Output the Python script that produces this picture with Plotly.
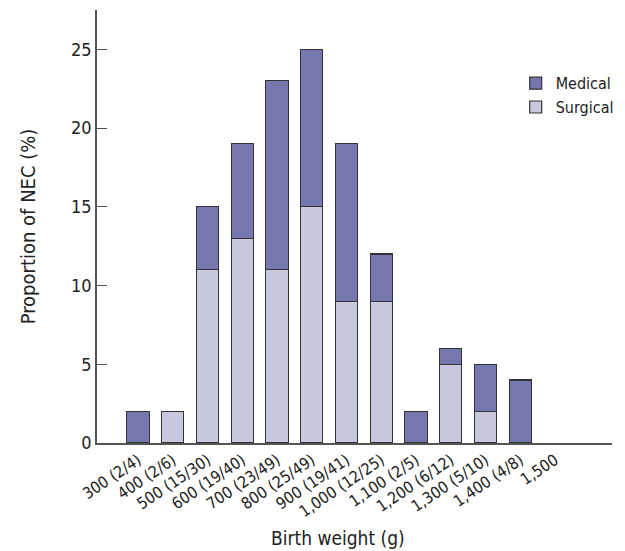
import plotly.graph_objects as go

categories = ["300 (2/4)", "400 (2/6)", "500 (15/30)", "600 (19/40)", "700 (23/49)",
              "800 (25/49)", "900 (19/41)", "1,000 (12/25)", "1,100 (2/5)", "1,200 (6/12)",
              "1,300 (5/10)", "1,400 (4/8)", "1,500"]
surgical = [None, 2, 11, 13, 11, 15, 9, 9, None, 5, 2, None, None]
medical = [2, None, 4, 6, 12, 10, 10, 3, 2, 1, 3, 4, None]
y_ticks = [0, 5, 10, 15, 20, 25]

FONT = "DejaVu Sans Condensed, Roboto, Arial"
x_idx = list(range(len(categories)))

fig = go.Figure()
fig.add_trace(go.Bar(x=x_idx, y=surgical, name="Surgical",
                     marker=dict(color="#c8c8e0", line=dict(color="#333333", width=1.2)),
                     width=0.64))
fig.add_trace(go.Bar(x=x_idx, y=medical, name="Medical",
                     marker=dict(color="#7577ae", line=dict(color="#333333", width=1.2)),
                     width=0.64))

fig.add_annotation(text="Birth weight (g)", xref="paper", yref="paper",
                   x=0.468, y=-0.219, xanchor="center", yanchor="middle",
                   showarrow=False, font=dict(size=19, family=FONT, color="#222222"))

fig.update_layout(
    width=625, height=551,
    barmode="stack",
    plot_bgcolor="white", paper_bgcolor="white",
    margin=dict(l=97, r=13, t=10, b=108, autoexpand=False),
    font=dict(family=FONT, color="#222222", size=16),
    legend=dict(x=0.813, y=0.87, xanchor="left", yanchor="top",
                traceorder="reversed", font=dict(size=16, family=FONT),
                bgcolor="rgba(0,0,0,0)", tracegroupgap=0),
    xaxis=dict(range=[-1.18, 13.64], tickmode="array", tickvals=x_idx, ticktext=categories,
               tickangle=-34, tickfont=dict(size=16, family=FONT), automargin=False,
               showline=True, linecolor="#555555", linewidth=1.5, ticks="",
               showgrid=False, zeroline=False),
    yaxis=dict(range=[0, 27.5], tickvals=y_ticks, ticks="inside", ticklen=10,
               tickcolor="#555555", tickwidth=1.2, automargin=False,
               tickfont=dict(size=18, family=FONT),
               showline=True, linecolor="#555555", linewidth=1.5,
               showgrid=False, zeroline=False,
               title=dict(text="Proportion of NEC (%)", font=dict(size=20, family=FONT), standoff=30)),
)

fig.write_html("out.html", config={"displayModeBar": False},
               post_script="document.body.style.margin='0';document.body.style.overflow='hidden';")
